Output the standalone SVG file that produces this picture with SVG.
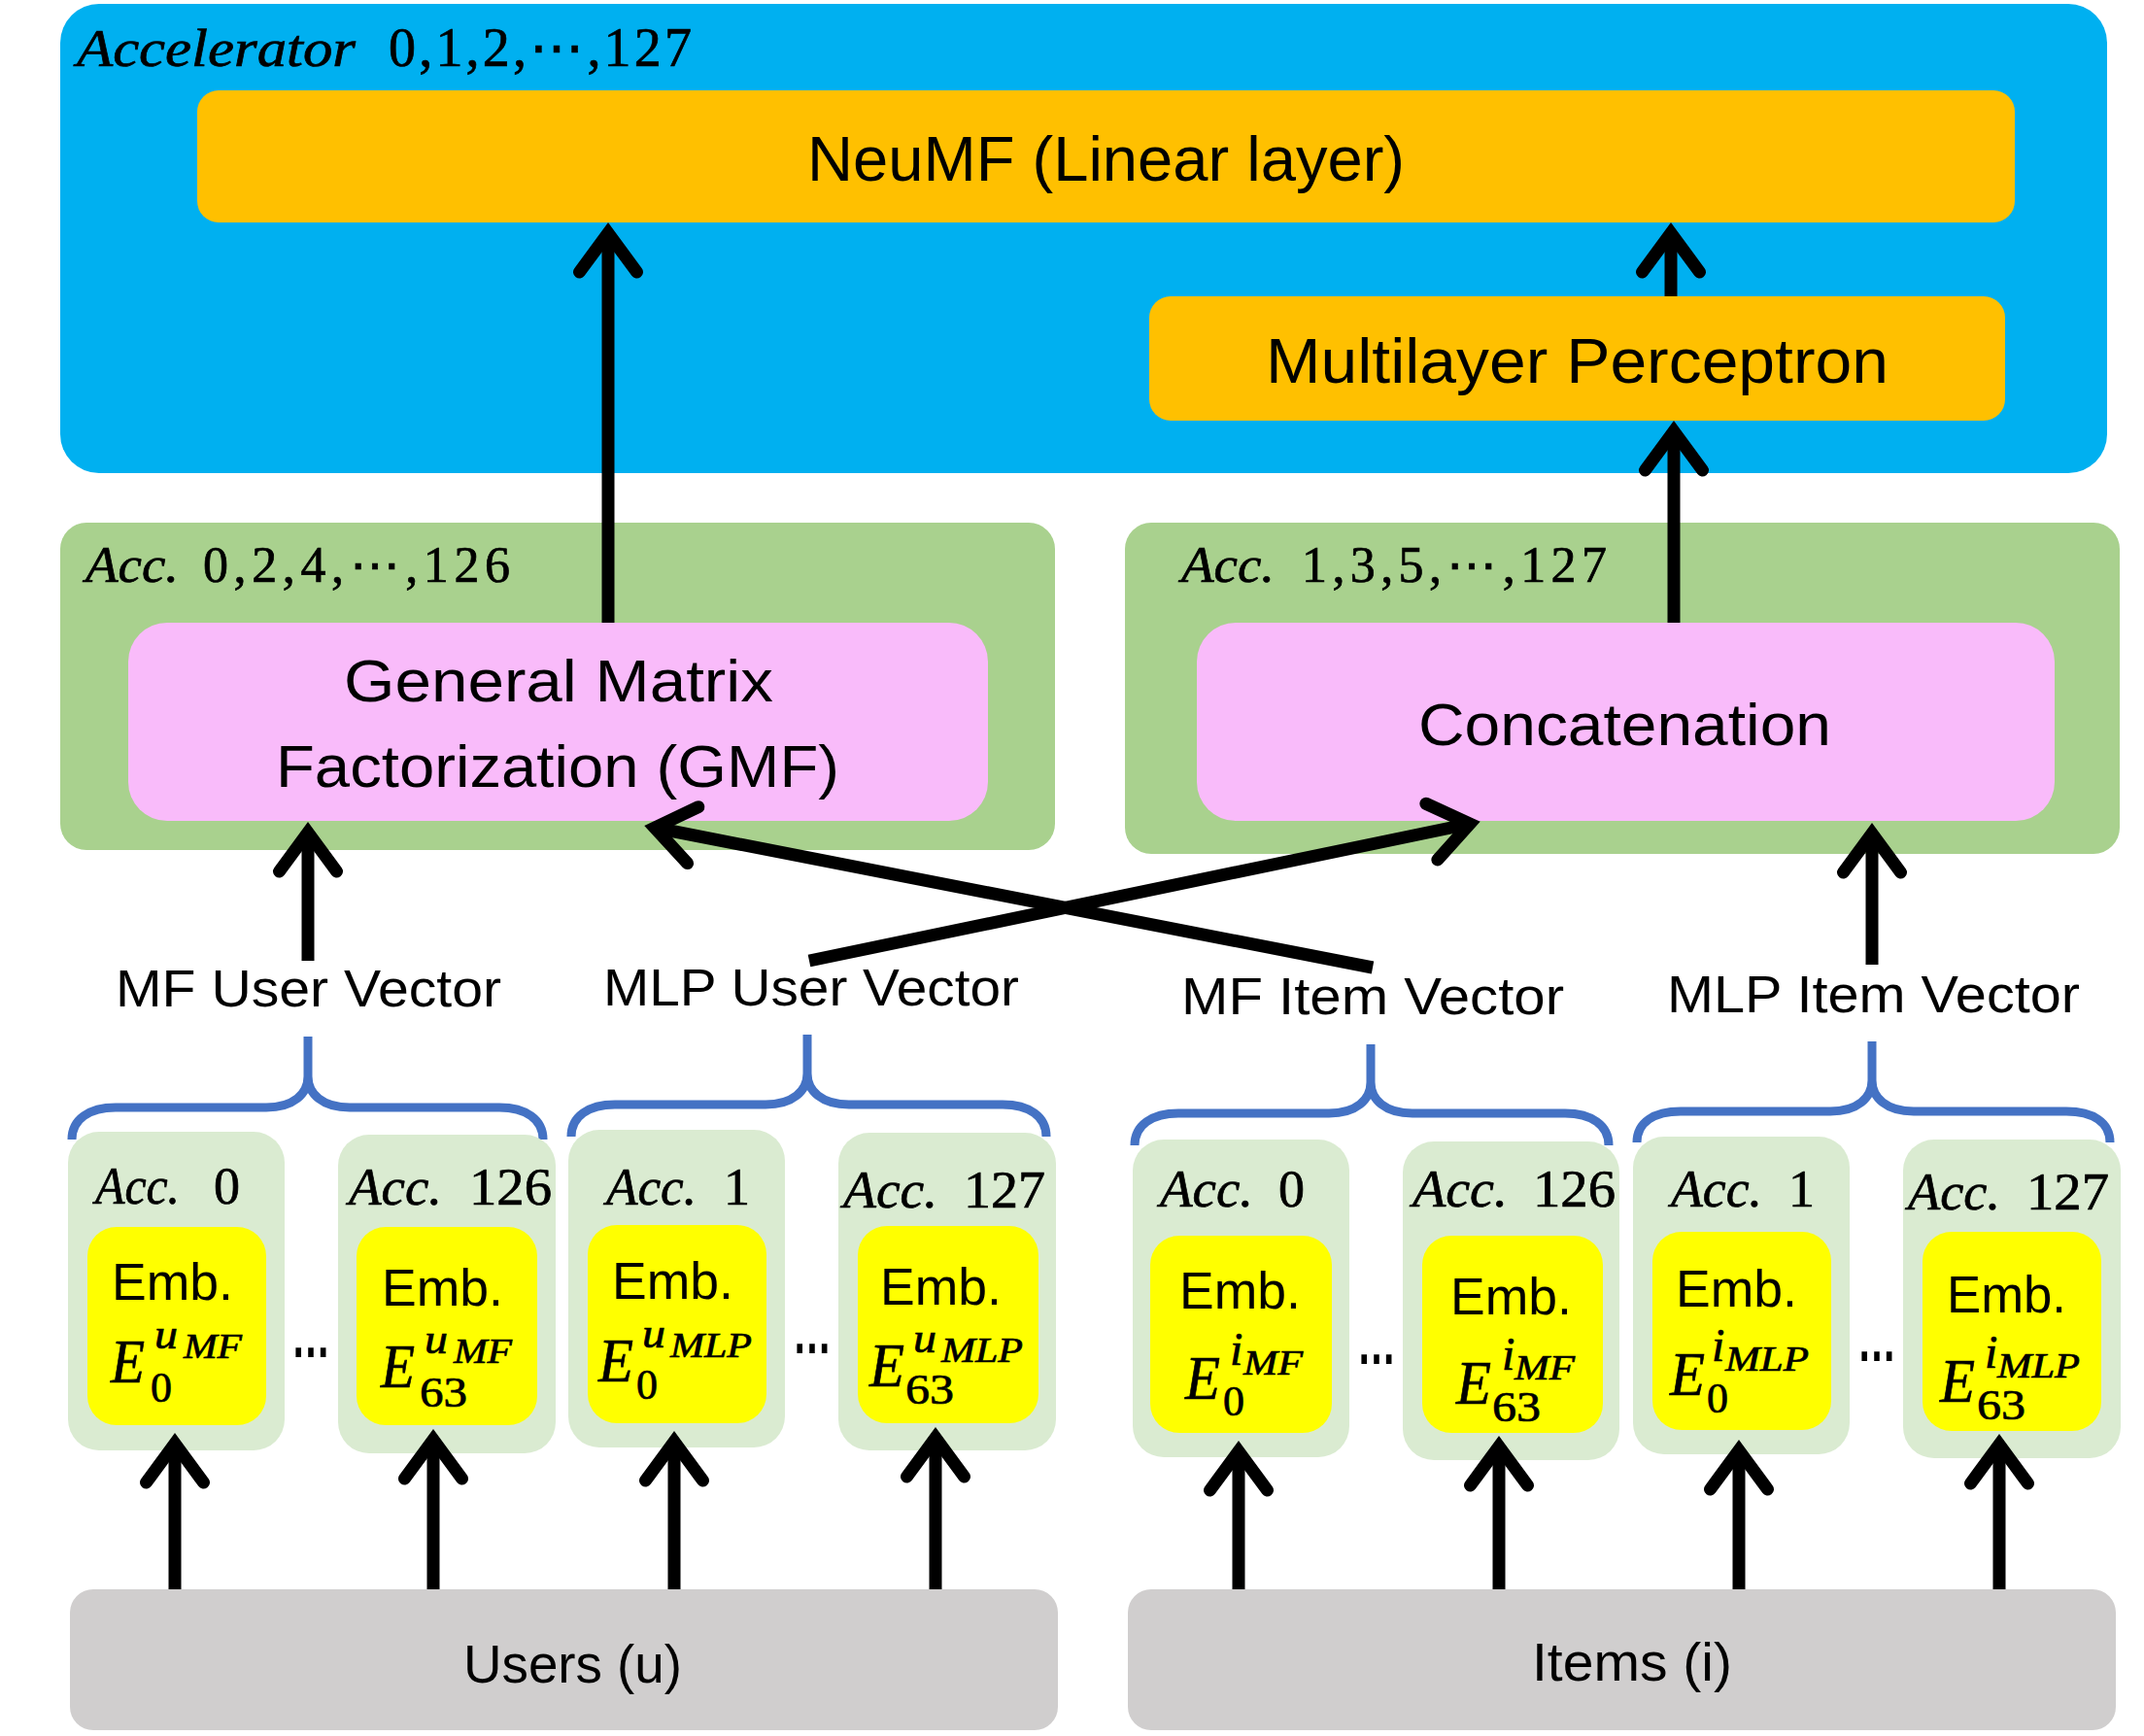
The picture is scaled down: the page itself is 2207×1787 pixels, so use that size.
<svg xmlns="http://www.w3.org/2000/svg" width="2207" height="1787" viewBox="0 0 2207 1787">
<defs>
<style>
.lbl{font-family:"Liberation Sans",Arial,sans-serif;fill:#000}
.mi{font-family:"Liberation Serif","DejaVu Serif",serif;font-style:italic;fill:#000;stroke:#000;stroke-width:0.7}
.mn{font-family:"Liberation Serif","DejaVu Serif",serif;fill:#000;stroke:#000;stroke-width:0.7}
.dots{font-family:"Liberation Sans",Arial,sans-serif;font-weight:bold;fill:#000}
.blue{fill:#00B0F0}
.orange{fill:#FFC000}
.green{fill:#A9D18E}
.pink{fill:#F9BBFA}
.lgreen{fill:#DAEBD1}
.yellow{fill:#FFFF00}
.grey{fill:#D0CECE}
.brace{fill:none;stroke:#4472C4;stroke-width:9}
.conn{fill:none;stroke:#000;stroke-width:13;marker-end:url(#ah)}
</style>
<marker id="ah" markerUnits="userSpaceOnUse" orient="auto" markerWidth="120" markerHeight="120" viewBox="-60 -60 120 120" refX="0" refY="0" style="overflow:visible">
<path d="M-40,-29.5 L0,0 L-40,29.5" fill="none" stroke="#000" stroke-width="13" stroke-linecap="round" stroke-linejoin="miter"/>
</marker>
</defs>
<rect width="2207" height="1787" fill="#fff"/>

<g id="accelerator">
<rect class="blue" x="62" y="4" width="2107" height="483" rx="40"/>
<text class="mi" x="79" y="68" font-size="54" textLength="287" lengthAdjust="spacingAndGlyphs">Accelerator</text>
<text class="mn" x="400" y="68" font-size="56" textLength="312" lengthAdjust="spacing">0,1,2,⋯,127</text>
</g>
<g id="neumf">
<rect class="orange" x="203" y="93" width="1871" height="136" rx="22"/>
<text class="lbl" x="831" y="186" font-size="64" textLength="615" lengthAdjust="spacingAndGlyphs">NeuMF (Linear layer)</text>
</g>
<g id="mlp">
<rect class="orange" x="1183" y="305" width="881" height="128" rx="22"/>
<text class="lbl" x="1303" y="394" font-size="64" textLength="641" lengthAdjust="spacingAndGlyphs">Multilayer Perceptron</text>
</g>

<g id="acc-even">
<rect class="green" x="62" y="538" width="1024" height="337" rx="27"/>
<text class="mi" x="88" y="599" font-size="52" textLength="96" lengthAdjust="spacingAndGlyphs">Acc.</text>
<text class="mn" x="209" y="599" font-size="52" textLength="316" lengthAdjust="spacing">0,2,4,⋯,126</text>
</g>
<g id="acc-odd">
<rect class="green" x="1158" y="538" width="1024" height="341" rx="27"/>
<text class="mi" x="1216" y="599" font-size="52" textLength="96" lengthAdjust="spacingAndGlyphs">Acc.</text>
<text class="mn" x="1340" y="599" font-size="52" textLength="314" lengthAdjust="spacing">1,3,5,⋯,127</text>
</g>
<g id="gmf">
<rect class="pink" x="132" y="641" width="885" height="204" rx="40"/>
<text class="lbl" x="354" y="722" font-size="62" textLength="442" lengthAdjust="spacingAndGlyphs">General Matrix</text>
<text class="lbl" x="284" y="810" font-size="62" textLength="580" lengthAdjust="spacingAndGlyphs">Factorization (GMF)</text>
</g>
<g id="concat">
<rect class="pink" x="1232" y="641" width="883" height="204" rx="40"/>
<text class="lbl" x="1460" y="767" font-size="62" textLength="425" lengthAdjust="spacingAndGlyphs">Concatenation</text>
</g>

<g id="vector-labels">
<text class="lbl" x="119" y="1036" font-size="54" textLength="397" lengthAdjust="spacingAndGlyphs">MF User Vector</text>
<text class="lbl" x="621" y="1035" font-size="54" textLength="428" lengthAdjust="spacingAndGlyphs">MLP User Vector</text>
<text class="lbl" x="1216" y="1044" font-size="54" textLength="394" lengthAdjust="spacingAndGlyphs">MF Item Vector</text>
<text class="lbl" x="1716" y="1042" font-size="54" textLength="425" lengthAdjust="spacingAndGlyphs">MLP Item Vector</text>
</g>

<g id="braces">
<path class="brace" d="M74,1173 C74,1152 92,1140 119,1140 L274,1140 C302,1140 317,1126 317,1108 L317,1067 M317,1108 C317,1126 332,1140 360,1140 L514,1140 C541,1140 559,1152 559,1173"/>
<path class="brace" d="M588,1170 C588,1149 606,1137 633,1137 L788,1137 C816,1137 831,1123 831,1105 L831,1065 M831,1105 C831,1123 846,1137 874,1137 L1032,1137 C1059,1137 1077,1149 1077,1170"/>
<path class="brace" d="M1168,1179 C1168,1158 1186,1146 1213,1146 L1368,1146 C1396,1146 1411,1132 1411,1114 L1411,1075 M1411,1114 C1411,1132 1426,1146 1454,1146 L1611,1146 C1638,1146 1656,1158 1656,1179"/>
<path class="brace" d="M1685,1176 C1685,1155 1703,1144 1730,1144 L1884,1144 C1912,1144 1927,1130 1927,1112 L1927,1072 M1927,1112 C1927,1130 1942,1144 1970,1144 L2127,1144 C2154,1144 2172,1155 2172,1176"/>
</g>

<g id="acc0-umf">
<rect class="lgreen" x="70" y="1165" width="223" height="328" rx="32"/>
<text class="mi" x="98" y="1239" font-size="54" textLength="87" lengthAdjust="spacingAndGlyphs">Acc.</text>
<text class="mn" x="220" y="1239" font-size="54">0</text>
<rect class="yellow" x="90" y="1263" width="184" height="204" rx="30"/>
<text class="lbl" x="115" y="1338" font-size="54" textLength="125" lengthAdjust="spacingAndGlyphs">Emb.</text>
<text class="mi" x="114" y="1423" font-size="64" textLength="35" lengthAdjust="spacingAndGlyphs">E</text>
<text class="mi" x="159" y="1388" font-size="44" textLength="24" lengthAdjust="spacingAndGlyphs">u</text>
<text class="mi" x="189" y="1398" font-size="36" textLength="60" lengthAdjust="spacingAndGlyphs">MF</text>
<text class="mn" x="155" y="1443" font-size="44">0</text>
</g>
<g id="acc126-umf">
<rect class="lgreen" x="348" y="1168" width="224" height="328" rx="32"/>
<text class="mi" x="359" y="1240" font-size="54" textLength="96" lengthAdjust="spacingAndGlyphs">Acc.</text>
<text class="mn" x="483" y="1240" font-size="54" textLength="85" lengthAdjust="spacingAndGlyphs">126</text>
<rect class="yellow" x="367" y="1263" width="186" height="204" rx="30"/>
<text class="lbl" x="393" y="1344" font-size="54" textLength="125" lengthAdjust="spacingAndGlyphs">Emb.</text>
<text class="mi" x="392" y="1428" font-size="64" textLength="35" lengthAdjust="spacingAndGlyphs">E</text>
<text class="mi" x="437" y="1393" font-size="44" textLength="24" lengthAdjust="spacingAndGlyphs">u</text>
<text class="mi" x="467" y="1403" font-size="36" textLength="60" lengthAdjust="spacingAndGlyphs">MF</text>
<text class="mn" x="432" y="1448" font-size="44" textLength="49" lengthAdjust="spacingAndGlyphs">63</text>
</g>
<g id="acc1-umlp">
<rect class="lgreen" x="585" y="1163" width="223" height="327" rx="32"/>
<text class="mi" x="624" y="1240" font-size="54" textLength="93" lengthAdjust="spacingAndGlyphs">Acc.</text>
<text class="mn" x="745" y="1240" font-size="54">1</text>
<rect class="yellow" x="605" y="1261" width="184" height="204" rx="30"/>
<text class="lbl" x="630" y="1337" font-size="54" textLength="125" lengthAdjust="spacingAndGlyphs">Emb.</text>
<text class="mi" x="616" y="1422" font-size="64" textLength="36" lengthAdjust="spacingAndGlyphs">E</text>
<text class="mi" x="661" y="1387" font-size="44" textLength="24" lengthAdjust="spacingAndGlyphs">u</text>
<text class="mi" x="690" y="1397" font-size="36" textLength="84" lengthAdjust="spacingAndGlyphs">MLP</text>
<text class="mn" x="655" y="1440" font-size="44">0</text>
</g>
<g id="acc127-umlp">
<rect class="lgreen" x="863" y="1166" width="224" height="327" rx="32"/>
<text class="mi" x="868" y="1243" font-size="54" textLength="97" lengthAdjust="spacingAndGlyphs">Acc.</text>
<text class="mn" x="992" y="1243" font-size="54" textLength="84" lengthAdjust="spacingAndGlyphs">127</text>
<rect class="yellow" x="883" y="1262" width="186" height="203" rx="30"/>
<text class="lbl" x="906" y="1343" font-size="54" textLength="125" lengthAdjust="spacingAndGlyphs">Emb.</text>
<text class="mi" x="895" y="1427" font-size="64" textLength="36" lengthAdjust="spacingAndGlyphs">E</text>
<text class="mi" x="940" y="1392" font-size="44" textLength="24" lengthAdjust="spacingAndGlyphs">u</text>
<text class="mi" x="969" y="1402" font-size="36" textLength="84" lengthAdjust="spacingAndGlyphs">MLP</text>
<text class="mn" x="932" y="1445" font-size="44" textLength="50" lengthAdjust="spacingAndGlyphs">63</text>
</g>
<g id="acc0-imf">
<rect class="lgreen" x="1166" y="1173" width="223" height="327" rx="32"/>
<text class="mi" x="1194" y="1242" font-size="54" textLength="96" lengthAdjust="spacingAndGlyphs">Acc.</text>
<text class="mn" x="1316" y="1242" font-size="54">0</text>
<rect class="yellow" x="1184" y="1272" width="187" height="203" rx="30"/>
<text class="lbl" x="1214" y="1347" font-size="54" textLength="125" lengthAdjust="spacingAndGlyphs">Emb.</text>
<text class="mi" x="1220" y="1440" font-size="64" textLength="36" lengthAdjust="spacingAndGlyphs">E</text>
<text class="mi" x="1266" y="1405" font-size="48">i</text>
<text class="mi" x="1280" y="1415" font-size="36" textLength="61" lengthAdjust="spacingAndGlyphs">MF</text>
<text class="mn" x="1259" y="1457" font-size="44">0</text>
</g>
<g id="acc126-imf">
<rect class="lgreen" x="1444" y="1175" width="223" height="328" rx="32"/>
<text class="mi" x="1454" y="1242" font-size="54" textLength="98" lengthAdjust="spacingAndGlyphs">Acc.</text>
<text class="mn" x="1578" y="1242" font-size="54" textLength="85" lengthAdjust="spacingAndGlyphs">126</text>
<rect class="yellow" x="1464" y="1272" width="186" height="203" rx="30"/>
<text class="lbl" x="1493" y="1353" font-size="54" textLength="125" lengthAdjust="spacingAndGlyphs">Emb.</text>
<text class="mi" x="1499" y="1445" font-size="64" textLength="36" lengthAdjust="spacingAndGlyphs">E</text>
<text class="mi" x="1546" y="1410" font-size="48">i</text>
<text class="mi" x="1559" y="1420" font-size="36" textLength="62" lengthAdjust="spacingAndGlyphs">MF</text>
<text class="mn" x="1536" y="1463" font-size="44" textLength="50" lengthAdjust="spacingAndGlyphs">63</text>
</g>
<g id="acc1-imlp">
<rect class="lgreen" x="1681" y="1170" width="223" height="327" rx="32"/>
<text class="mi" x="1720" y="1242" font-size="54" textLength="94" lengthAdjust="spacingAndGlyphs">Acc.</text>
<text class="mn" x="1841" y="1242" font-size="54">1</text>
<rect class="yellow" x="1701" y="1268" width="184" height="204" rx="30"/>
<text class="lbl" x="1725" y="1345" font-size="54" textLength="125" lengthAdjust="spacingAndGlyphs">Emb.</text>
<text class="mi" x="1719" y="1436" font-size="64" textLength="36" lengthAdjust="spacingAndGlyphs">E</text>
<text class="mi" x="1762" y="1401" font-size="48">i</text>
<text class="mi" x="1776" y="1411" font-size="36" textLength="86" lengthAdjust="spacingAndGlyphs">MLP</text>
<text class="mn" x="1757" y="1454" font-size="44">0</text>
</g>
<g id="acc127-imlp">
<rect class="lgreen" x="1959" y="1173" width="224" height="328" rx="32"/>
<text class="mi" x="1964" y="1245" font-size="54" textLength="95" lengthAdjust="spacingAndGlyphs">Acc.</text>
<text class="mn" x="2086" y="1245" font-size="54" textLength="85" lengthAdjust="spacingAndGlyphs">127</text>
<rect class="yellow" x="1979" y="1268" width="184" height="205" rx="30"/>
<text class="lbl" x="2004" y="1351" font-size="54" textLength="123" lengthAdjust="spacingAndGlyphs">Emb.</text>
<text class="mi" x="1997" y="1443" font-size="64" textLength="36" lengthAdjust="spacingAndGlyphs">E</text>
<text class="mi" x="2043" y="1408" font-size="48">i</text>
<text class="mi" x="2056" y="1418" font-size="36" textLength="85" lengthAdjust="spacingAndGlyphs">MLP</text>
<text class="mn" x="2035" y="1461" font-size="44" textLength="50" lengthAdjust="spacingAndGlyphs">63</text>
</g>

<g id="ellipses">
<text class="dots" x="300" y="1397" font-size="64" textLength="40" lengthAdjust="spacingAndGlyphs">…</text>
<text class="dots" x="816" y="1393" font-size="64" textLength="40" lengthAdjust="spacingAndGlyphs">…</text>
<text class="dots" x="1397" y="1404" font-size="64" textLength="40" lengthAdjust="spacingAndGlyphs">…</text>
<text class="dots" x="1912" y="1401" font-size="64" textLength="40" lengthAdjust="spacingAndGlyphs">…</text>
</g>

<g id="users">
<rect class="grey" x="72" y="1636" width="1017" height="145" rx="24"/>
<text class="lbl" x="477" y="1732" font-size="56" textLength="225" lengthAdjust="spacingAndGlyphs">Users (u)</text>
</g>
<g id="items">
<rect class="grey" x="1161" y="1636" width="1017" height="145" rx="24"/>
<text class="lbl" x="1577" y="1730" font-size="56" textLength="206" lengthAdjust="spacingAndGlyphs">Items (i)</text>
</g>

<g id="connectors">
<path class="conn" d="M626,641 L626,240"/>
<path class="conn" d="M1720,305 L1720,240"/>
<path class="conn" d="M1723,641 L1723,444"/>
<path class="conn" d="M317,989 L317,857"/>
<path class="conn" d="M833,989 L1513,848"/>
<path class="conn" d="M1413,996 L674,852"/>
<path class="conn" d="M1927,993 L1927,858"/>
<path class="conn" d="M180,1636 L180,1486"/>
<path class="conn" d="M446,1636 L446,1482"/>
<path class="conn" d="M694,1636 L694,1484"/>
<path class="conn" d="M963,1636 L963,1480"/>
<path class="conn" d="M1275,1636 L1275,1494"/>
<path class="conn" d="M1543,1636 L1543,1489"/>
<path class="conn" d="M1790,1636 L1790,1493"/>
<path class="conn" d="M2058,1636 L2058,1487"/>
</g>
</svg>
